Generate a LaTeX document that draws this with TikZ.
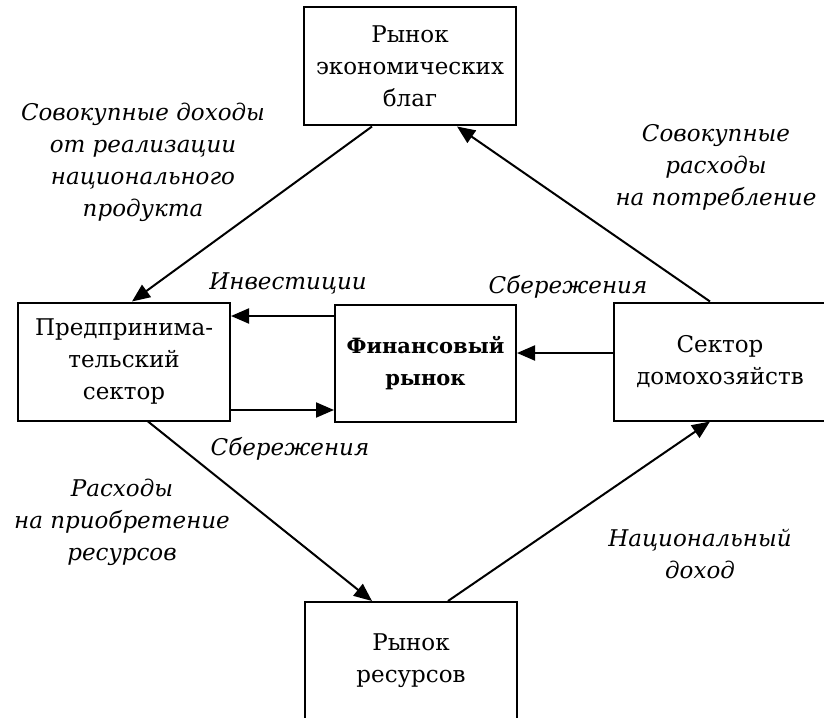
\documentclass[tikz,border=0pt]{standalone}
\usepackage{fontspec}
\setmainfont{DejaVu Serif}
\usepackage{tikz}
\usetikzlibrary{arrows.meta, positioning}
\newcommand{\diagsize}{\fontsize{11.5pt}{16pt}\selectfont}
\tikzstyle{block} = [rectangle, minimum width=106pt, minimum height=59pt, text centered, align=center, draw=black, line width=1pt, fill=white, font=\diagsize]
\tikzstyle{fin} = [rectangle, minimum width=90.5pt, minimum height=58.5pt, text centered, align=center, draw=black, line width=1pt, font=\fontsize{10.5pt}{16pt}\selectfont\bfseries]
\tikzstyle{lbl} = [align=center, font=\diagsize\itshape]
\tikzstyle{arrow} = [line width=1pt,-{Triangle[length=9pt,width=7.5pt]}]

\begin{document}
\begin{tikzpicture}[x=0.5pt, y=-0.5pt]
\useasboundingbox (0,0) rectangle (824,717);

\node (goods) [block] at (410,66.5) {Рынок\\экономических\\благ};
\node (firms) [block] at (124,361.5) {Предпринима-\\тельский\\сектор};
\node (finmkt) [fin] at (425.5,363.5) {Финансовый\\рынок};
\node (house) [block] at (720,361.5) {Сектор\\домохозяйств};
\node (res) [block] at (411,661) {Рынок\\ресурсов};

\node (lblincome) [lbl] at (143,162) {Совокупные доходы\\от реализации\\национального\\продукта};
\node (lblcons) [lbl] at (716,167) {Совокупные\\расходы\\на потребление};
\node (lblinv) [lbl] at (288,284) {Инвестиции};
\node (lblsavup) [lbl] at (568,287) {Сбережения};
\node (lblsavdn) [lbl] at (290,449) {Сбережения};
\node (lblcost) [lbl] at (122,522) {Расходы\\на приобретение\\ресурсов};
\node (lblnat) [lbl] at (700,554.5) {Национальный\\доход};

\draw [arrow] ([xshift=-19pt]goods.south) -- ([xshift=4pt]firms.north);
\draw [arrow] ([xshift=-5pt]house.north) -- ([xshift=23.5pt]goods.south);
\draw [arrow] ([xshift=12pt]firms.south) -- ([xshift=-19.5pt]res.north);
\draw [arrow] ([xshift=18.5pt]res.north) -- ([xshift=-5pt]house.south);
\draw [arrow] ([yshift=23.75pt]finmkt.west) -- ([yshift=22.75pt]firms.east);
\draw [arrow] ([yshift=-24.25pt]firms.east) -- ([yshift=-23.25pt]finmkt.west);
\draw [arrow] ([yshift=4.25pt]house.west) -- ([yshift=5.25pt]finmkt.east);

\end{tikzpicture}
\end{document}
